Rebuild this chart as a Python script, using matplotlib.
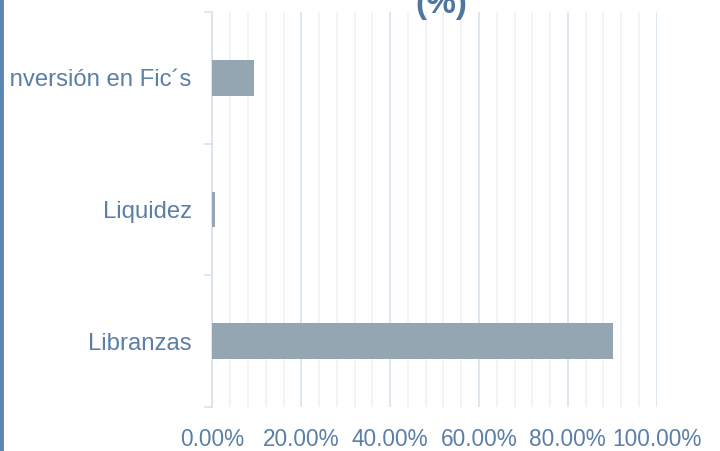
import matplotlib
matplotlib.use("Agg")
import matplotlib.pyplot as plt
from matplotlib.ticker import MultipleLocator, FuncFormatter
from matplotlib.transforms import Bbox
import numpy as np

categorias = ["Libranzas", "Liquidez", "Inversión en Fic´s"]
valores = [0.902, 0.006, 0.094]

azul_txt = "#5b7fa6"
barra = "#94a6b1"

plt.rcParams['font.family'] = ['Liberation Sans', 'DejaVu Sans']

fig = plt.figure(figsize=(7.2, 4.51), dpi=100)
ax = fig.add_axes([0.2951, 0.0976, 0.9120 - 0.2951, 0.9734 - 0.0976])

y = np.arange(len(categorias))
ax.barh(y, valores, height=0.27, color=barra, zorder=3)

ax.set_xlim(0, 1.0)
ax.set_ylim(-0.5, len(categorias) - 0.5)

ax.xaxis.set_major_locator(MultipleLocator(0.2))
ax.xaxis.set_minor_locator(MultipleLocator(0.04))
ax.xaxis.set_major_formatter(FuncFormatter(lambda v, p: f"{v*100:.2f}%"))
ax.grid(axis='x', which='major', color="#d8e2ec", lw=1.2, zorder=0)
ax.grid(axis='x', which='minor', color="#eef2f6", lw=1.2, zorder=0)

ax.set_yticks(y)
ax.set_yticklabels(categorias)
ax.set_yticks(np.arange(-0.5, len(categorias)), minor=True)

ax.tick_params(axis='x', which='both', length=0, pad=15, labelsize=16.3, labelcolor=azul_txt)
ax.tick_params(axis='y', which='major', length=0, pad=15, labelsize=17.2, labelcolor=azul_txt)
ax.tick_params(axis='y', which='minor', length=6, width=1.2, color="#d8e2ec")

for s in ['top', 'right', 'bottom']:
    ax.spines[s].set_visible(False)
ax.spines['left'].set_color("#d8e2ec")
ax.spines['left'].set_linewidth(1.2)

# el grafico original esta recortado a la izquierda
recorte = Bbox.from_extents(8, 0, 720, 451)
for lab in ax.get_yticklabels():
    lab.set_clip_on(True)
    lab.set_clip_box(recorte)

fig.text(0.613, 1 - 13.5 / 451, "(%)", ha='center', va='baseline',
         fontsize=24, fontweight='bold', color="#4f76a0")

# borde izquierdo
fig.add_artist(plt.Line2D([0.002, 0.002], [0, 1], color="#5a86b0", lw=3.5,
                          transform=fig.transFigure))

fig.savefig("out.png", dpi=100)
